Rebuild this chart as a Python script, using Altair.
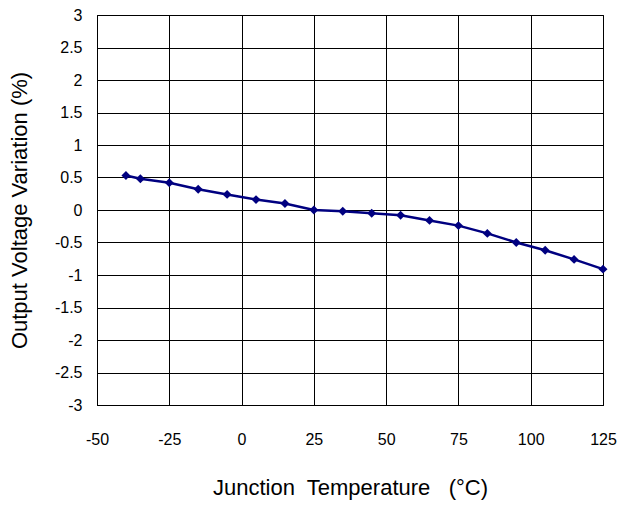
import altair as alt
import pandas as pd

# Junction temperature (°C) and output voltage variation (%)
temps = [-40, -35, -25, -15, -5, 5, 15, 25, 35, 45, 55, 65, 75, 85, 95, 105, 115, 125]
variation = [0.53, 0.48, 0.42, 0.32, 0.24, 0.16, 0.10, 0.0, -0.02, -0.05, -0.08,
             -0.16, -0.24, -0.36, -0.50, -0.62, -0.76, -0.91]

x_ticks = [-50, -25, 0, 25, 50, 75, 100, 125]
y_ticks = [-3, -2.5, -2, -1.5, -1, -0.5, 0, 0.5, 1, 1.5, 2, 2.5, 3]

df = pd.DataFrame({"temp": temps, "var": variation})

FONT = "Liberation Sans"
NAVY = "#000080"
NBSP = "\u00a0"

common_axis = dict(
    grid=True, gridColor="#000000", gridWidth=1, domainColor="#000000",
    ticks=False, labelFontSize=16, labelFont=FONT, labelColor="#000000",
    titleFontSize=22, titleFont=FONT, titleFontWeight="normal",
    titleColor="#000000", labelFlush=False, labelOverlap=False,
    labelExpr="toString(datum.value)",
)

x_title = f"Junction{NBSP} Temperature{NBSP}{NBSP} (°C)"

base = alt.Chart(df).encode(
    x=alt.X(
        "temp:Q",
        scale=alt.Scale(domain=[-50, 125], nice=False, zero=False),
        axis=alt.Axis(values=x_ticks, title=x_title,
                      labelPadding=26, titlePadding=30, **common_axis),
    ),
    y=alt.Y(
        "var:Q",
        scale=alt.Scale(domain=[-3, 3], nice=False, zero=False),
        axis=alt.Axis(values=y_ticks, title="Output Voltage Variation (%)",
                      labelPadding=15, titlePadding=23, **common_axis),
    ),
)

line = base.mark_line(color=NAVY, strokeWidth=2.5)
points = base.mark_point(shape="diamond", filled=True, color=NAVY, size=80, opacity=1)

chart = (
    alt.layer(line, points)
    .properties(
        width=506, height=390,
        autosize=alt.AutoSizeParams(type="none"),
        padding={"left": 97, "top": 15, "right": 18, "bottom": 101},
        background="#ffffff",
    )
    .configure_view(stroke="#000000", strokeWidth=1)
)

chart.save("out.html", embed_options={"renderer": "svg", "actions": False})
